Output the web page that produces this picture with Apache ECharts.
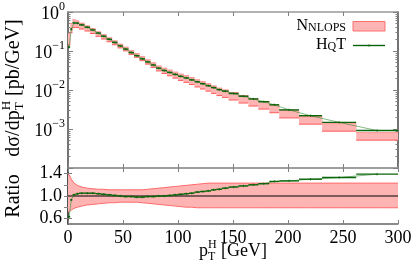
<!DOCTYPE html>
<html><head><meta charset="utf-8">
<script src="https://cdn.jsdelivr.net/npm/echarts@6/dist/echarts.min.js"></script>
<style>html,body{margin:0;padding:0;background:#fff}#c{width:415px;height:264px}</style>
</head><body><div id="c"></div>
<script>
// ---- data ----
const binEdges = [0,2,4,7,10,15,20,25,30,35,40,45,50,55,60,65,70,75,80,85,90,95,100,105,110,115,120,125,130,135,140,146,155,164,173,183,192,210,231,262,300];
const hqt = [0.126,0.363,0.525,0.519,0.468,0.407,0.347,0.288,0.240,0.200,0.166,0.135,0.112,0.0912,0.0759,0.0631,0.0525,0.0437,0.0363,0.0316,0.0282,0.0251,0.0224,0.0204,0.0182,0.0162,0.0145,0.0129,0.0115,0.0102,0.00933,0.00813,0.00692,0.00589,0.00501,0.00417,0.00309,0.00219,0.00148,0.000912];
const hqtRatio = [0.63,0.93,1.02,1.04,1.05,1.05,1.05,1.04,1.03,1.02,1.01,1.00,0.99,0.99,0.98,0.98,0.99,0.99,1.00,1.00,1.01,1.02,1.03,1.04,1.05,1.07,1.08,1.09,1.11,1.12,1.14,1.16,1.18,1.20,1.22,1.26,1.27,1.30,1.33,1.39];
const nnlopsUp = [1.38,1.30,1.23,1.19,1.16,1.14,1.13,1.12,1.12,1.11,1.11,1.11,1.11,1.11,1.11,1.11,1.12,1.13,1.14,1.15,1.16,1.17,1.18,1.19,1.20,1.21,1.22,1.23,1.23,1.23,1.23,1.23,1.23,1.23,1.23,1.23,1.23,1.23,1.23,1.23];
const nnlopsDown = [0.72,0.75,0.78,0.80,0.82,0.84,0.85,0.86,0.87,0.88,0.88,0.89,0.89,0.89,0.89,0.88,0.87,0.86,0.85,0.84,0.83,0.82,0.81,0.80,0.80,0.79,0.79,0.79,0.79,0.79,0.79,0.79,0.79,0.79,0.79,0.79,0.79,0.79,0.79,0.79];
const logTicks = [1e-4,1e-3,1e-2,1e-1,1];
const logLabels = [1e-3,1e-2,1e-1,1];
const ratioLabels = [0.6,1.0,1.4];
const ratioTicks = [0.6,0.8,1.0,1.2,1.4];
const xTicks = [0,50,100,150,200,250,300];

// ---- derived ----
const nBins = hqt.length;
const centers = [], nnlopsCentral = [];
for (let i = 0; i < nBins; i++) {
  centers.push((binEdges[i] + binEdges[i+1]) / 2);
  nnlopsCentral.push(hqt[i] / hqtRatio[i]);
}
const minorLog = [];
for (let d = -4; d <= -1; d++) for (let k = 2; k <= 9; k++) minorLog.push(k * Math.pow(10, d));

const FONT = '"Liberation Serif", "DejaVu Serif", serif';
const PINK = '#ffb4b4', RED = '#ff6a6a', GREEN = '#0a650a', THIN = 'rgba(50,140,50,0.75)', TICK = '#808080';
const TL = 18; // tick label size

const chart = echarts.init(document.getElementById('c'), null, {renderer: 'canvas'});

const ctx = document.createElement('canvas').getContext('2d');
function tw(t, s) { ctx.font = s + 'px ' + FONT; return ctx.measureText(t).width; }

function xAx(grid, pos, labels, lineColor) {
  return {
    gridIndex: grid, type: 'value', min: 0, max: 300, interval: 50, position: pos,
    axisLine: {show: true, lineStyle: {color: lineColor, width: 1.5}},
    axisTick: {show: true, inside: true, length: 4, lineStyle: {color: TICK}},
    axisLabel: {show: labels, color: '#000', fontFamily: FONT, fontSize: TL, margin: 5},
    splitLine: {show: false}
  };
}
function logAx(pos, ticks, len, labels, line) {
  return {
    gridIndex: 0, type: 'log', logBase: 10, min: 1e-4, max: 1, position: pos,
    axisLine: {show: line, lineStyle: {color: '#444', width: 1.5}},
    axisTick: {show: true, inside: true, length: len, customValues: ticks, lineStyle: {color: TICK}},
    axisLabel: labels ? {
      show: true, customValues: logLabels, margin: 3,
      formatter: v => { const e = Math.round(Math.log10(v)); return '{b|10}{s|' + (e < 0 ? '\u2212' + (-e) : e) + '}'; },
      rich: {
        b: {fontFamily: FONT, fontSize: TL, color: '#000', lineHeight: 22, verticalAlign: 'bottom'},
        s: {fontFamily: FONT, fontSize: 12, color: '#000', lineHeight: 12, verticalAlign: 'top'}
      }
    } : {show: false},
    splitLine: {show: false}
  };
}
function ratioAx(pos, labels) {
  return {
    gridIndex: 1, type: 'value', min: 0.5, max: 1.5, position: pos,
    axisLine: {show: true, lineStyle: {color: '#444', width: 1.5}},
    axisTick: {show: true, inside: true, length: 4, customValues: ratioTicks, lineStyle: {color: TICK}},
    axisLabel: labels ? {show: true, customValues: ratioLabels, color: '#000', fontFamily: FONT, fontSize: TL, margin: 6,
      formatter: v => v.toFixed(1)} : {show: false},
    splitLine: {show: false}
  };
}

// y label parts
const yl1 = 'd\u03c3/dp', yl3 = ' [pb/GeV]', YS = 20, YSS = 13;
const ylSub = Math.max(tw('H', YSS), tw('T', YSS));
const ylW = tw(yl1, YS) + ylSub + tw(yl3, YS);
const ylx0 = -ylW / 2, ylx1 = ylx0 + tw(yl1, YS), ylx2 = ylx1 + ylSub;
const xl1 = 'p', xl3 = ' [GeV]', XS = 18, XSS = 12;
const xlSub = Math.max(tw('H', XSS), tw('T', XSS));
const xlW = tw(xl1, XS) + xlSub + tw(xl3, XS);
const xlx0 = -xlW / 2, xlx1 = xlx0 + tw(xl1, XS), xlx2 = xlx1 + xlSub;

function t(x, y, text, size) {
  return {type: 'text', x: x, y: y, style: {text: text, fontFamily: FONT, fontSize: size, fill: '#000', align: 'left', verticalAlign: 'middle'}};
}

const option = {
  animation: false,
  backgroundColor: '#fff',
  grid: [
    {left: 68, width: 330, top: 12, height: 156, outerBoundsMode: 'none'},
    {left: 68, width: 330, top: 168, height: 56, outerBoundsMode: 'none'}
  ],
  xAxis: [xAx(0, 'bottom', false, '#999'), xAx(0, 'top', false, '#999'), xAx(1, 'bottom', true, '#666'), xAx(1, 'top', false, '#999')],
  yAxis: [
    logAx('left', logTicks, 5, true, true),
    logAx('left', minorLog, 2.5, false, false),
    logAx('right', logTicks, 5, false, true),
    logAx('right', minorLog, 2.5, false, false),
    ratioAx('left', true),
    ratioAx('right', false)
  ],
  series: [
    { // NNLOPS band, main panel
      type: 'custom', xAxisIndex: 0, yAxisIndex: 0, clip: true, z: 1,
      data: hqt.map((_, i) => [binEdges[i], binEdges[i+1], nnlopsCentral[i] * nnlopsDown[i], nnlopsCentral[i] * nnlopsUp[i]]),
      encode: {x: [0, 1], y: [2, 3]},
      renderItem: (params, api) => {
        const a = api.coord([api.value(0), api.value(3)]);
        const b = api.coord([api.value(1), api.value(2)]);
        return {type: 'group', children: [
          {type: 'rect', shape: {x: a[0], y: a[1], width: b[0] - a[0] + 0.4, height: b[1] - a[1]}, style: {fill: PINK}},
          {type: 'line', shape: {x1: a[0], y1: a[1], x2: b[0], y2: a[1]}, style: {stroke: '#ff9090', lineWidth: 1}},
          {type: 'line', shape: {x1: a[0], y1: b[1], x2: b[0], y2: b[1]}, style: {stroke: '#ff5a5a', lineWidth: 1}}
        ]};
      }
    },
    { // HQT thin connecting line
      type: 'line', xAxisIndex: 0, yAxisIndex: 0, z: 2, showSymbol: false, symbol: 'none',
      data: centers.map((c, i) => [c, hqt[i]]),
      lineStyle: {color: THIN, width: 0.8}
    },
    { // HQT histogram
      type: 'custom', xAxisIndex: 0, yAxisIndex: 0, z: 3,
      data: hqt.map((v, i) => [binEdges[i], binEdges[i+1], v]),
      encode: {x: [0, 1], y: 2},
      renderItem: (params, api) => {
        const a = api.coord([api.value(0), api.value(2)]);
        const b = api.coord([api.value(1), api.value(2)]);
        const cx = (a[0] + b[0]) / 2;
        return {type: 'group', children: [
          {type: 'line', shape: {x1: a[0], y1: a[1], x2: b[0], y2: b[1]}, style: {stroke: GREEN, lineWidth: 1.4}},
          {type: 'line', shape: {x1: cx, y1: a[1] - 1.2, x2: cx, y2: a[1] + 1.2}, style: {stroke: GREEN, lineWidth: 0.8}}
        ]};
      }
    },
    { // ratio band
      type: 'custom', xAxisIndex: 2, yAxisIndex: 4, z: 1, clip: true,
      data: [[150, 1]],
      renderItem: (params, api) => {
        const xs = [0].concat(centers, [300]);
        const ups = [nnlopsUp[0]].concat(nnlopsUp, [nnlopsUp[nBins-1]]);
        const dns = [nnlopsDown[0]].concat(nnlopsDown, [nnlopsDown[nBins-1]]);
        const up = xs.map((x, i) => api.coord([x, ups[i]]));
        const dn = xs.map((x, i) => api.coord([x, dns[i]]));
        return {type: 'group', children: [
          {type: 'polygon', shape: {points: up.concat(dn.slice().reverse())}, style: {fill: PINK}},
          {type: 'polyline', shape: {points: up}, style: {stroke: RED, lineWidth: 1, fill: null}},
          {type: 'polyline', shape: {points: dn}, style: {stroke: RED, lineWidth: 1, fill: null}}
        ]};
      }
    },
    { // reference line at 1
      type: 'line', xAxisIndex: 2, yAxisIndex: 4, z: 2, showSymbol: false, symbol: 'none',
      data: [[0, 1], [300, 1]], lineStyle: {color: '#000', width: 1}
    },
    { // HQT ratio thin line
      type: 'line', xAxisIndex: 2, yAxisIndex: 4, z: 3, showSymbol: false, symbol: 'none',
      data: centers.map((c, i) => [c, hqtRatio[i]]), lineStyle: {color: THIN, width: 0.8}
    },
    { // HQT ratio histogram
      type: 'custom', xAxisIndex: 2, yAxisIndex: 4, z: 4,
      data: hqtRatio.map((v, i) => [binEdges[i], binEdges[i+1], v]),
      encode: {x: [0, 1], y: 2},
      renderItem: (params, api) => {
        const a = api.coord([api.value(0), api.value(2)]);
        const b = api.coord([api.value(1), api.value(2)]);
        const cx = (a[0] + b[0]) / 2;
        return {type: 'group', children: [
          {type: 'line', shape: {x1: a[0], y1: a[1], x2: b[0], y2: b[1]}, style: {stroke: GREEN, lineWidth: 1.4}},
          {type: 'line', shape: {x1: cx, y1: a[1] - 1.2, x2: cx, y2: a[1] + 1.2}, style: {stroke: GREEN, lineWidth: 0.8}}
        ]};
      }
    }
  ],
  graphic: [
    // legend
    {type: 'text', x: 346, y: 26, style: {text: '{a|N}{b|NLOPS}', align: 'right', verticalAlign: 'middle',
      rich: {a: {fontFamily: FONT, fontSize: 16, lineHeight: 16, verticalAlign: 'bottom', color: '#000'},
             b: {fontFamily: FONT, fontSize: 12, lineHeight: 12, verticalAlign: 'bottom', color: '#000'}}}},
    {type: 'rect', shape: {x: 353, y: 21.5, width: 32, height: 9.5}, style: {fill: PINK, stroke: '#ff7070', lineWidth: 1}},
    {type: 'text', x: 346, y: 45, style: {text: '{a|H}{b|Q}{a|T}', align: 'right', verticalAlign: 'middle',
      rich: {a: {fontFamily: FONT, fontSize: 16, lineHeight: 16, verticalAlign: 'bottom', color: '#000'},
             b: {fontFamily: FONT, fontSize: 12, lineHeight: 12, verticalAlign: 'bottom', color: '#000'}}}},
    {type: 'line', shape: {x1: 353, y1: 45.5, x2: 385, y2: 45.5}, style: {stroke: GREEN, lineWidth: 1.4}},
    {type: 'line', shape: {x1: 369, y1: 44.3, x2: 369, y2: 46.7}, style: {stroke: GREEN, lineWidth: 0.8}},
    // y axis title
    {type: 'group', x: 14, y: 88, rotation: Math.PI / 2, children: [
      t(ylx0, 0, yl1, YS), t(ylx1, -7, 'H', YSS), t(ylx1, 6, 'T', YSS), t(ylx2, 0, yl3, YS)
    ]},
    {type: 'group', x: 14, y: 196, rotation: Math.PI / 2, children: [
      {type: 'text', x: 0, y: 0, style: {text: 'Ratio', fontFamily: FONT, fontSize: 20, fill: '#000', align: 'center', verticalAlign: 'middle'}}
    ]},
    // x axis title
    {type: 'group', x: 233, y: 251, children: [
      t(xlx0, 0, xl1, XS), t(xlx1, -6.5, 'H', XSS), t(xlx1, 5.5, 'T', XSS), t(xlx2, 0, xl3, XS)
    ]}
  ]
};
chart.setOption(option);
</script>
</body></html>
